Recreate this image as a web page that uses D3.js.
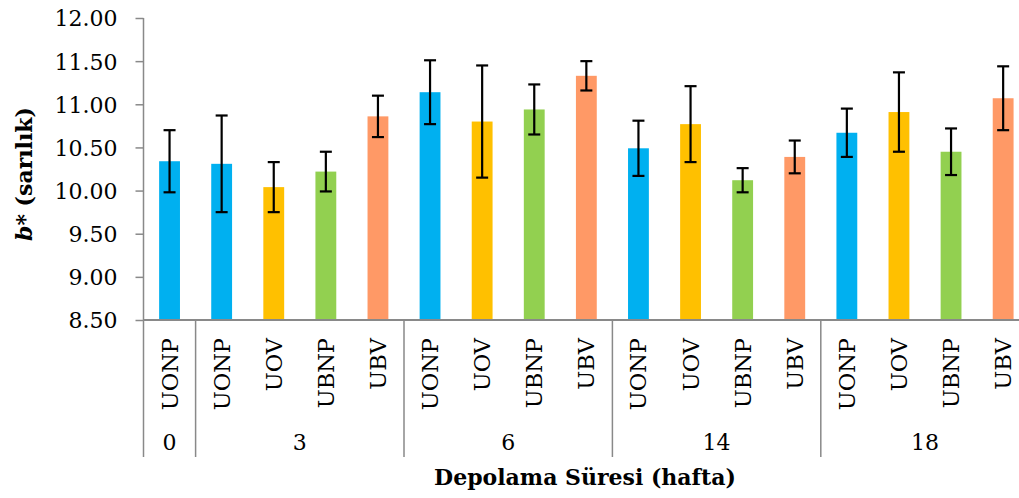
<!DOCTYPE html>
<html>
<head>
<meta charset="utf-8">
<script src="https://cdn.jsdelivr.net/npm/d3@7"></script>
<style>
  html, body { margin: 0; padding: 0; background: #fff; }
  svg { display: block; }
</style>
</head>
<body>
<svg id="chart" width="1019" height="498"></svg>
<script>
// ---- data ----
const weeks = ["0", "3", "3", "3", "3", "6", "6", "6", "6", "14", "14", "14", "14", "18", "18", "18", "18"];
const treatments = ["UONP", "UONP", "UOV", "UBNP", "UBV", "UONP", "UOV", "UBNP", "UBV", "UONP", "UOV", "UBNP", "UBV", "UONP", "UOV", "UBNP", "UBV"];
const values = [10.34, 10.31, 10.04, 10.22, 10.86, 11.14, 10.80, 10.94, 11.33, 10.49, 10.77, 10.12, 10.39, 10.67, 10.91, 10.45, 11.07];
const errors = [0.36, 0.56, 0.29, 0.23, 0.24, 0.37, 0.65, 0.29, 0.17, 0.32, 0.44, 0.14, 0.19, 0.28, 0.46, 0.27, 0.37];
const yTicks = [8.5, 9.0, 9.5, 10.0, 10.5, 11.0, 11.5, 12.0];
const treatmentNames = ["UONP", "UOV", "UBNP", "UBV"];
const treatmentColors = ["#00B0F0", "#FFC000", "#92D050", "#FF9966"];
const yTitle = "b* (sarılık)";
const xTitle = "Depolama Süresi (hafta)";

(function () {
// ---- layout ----
const svg = d3.select("#chart");
const mLeft = 143.5, mTop = 18, mBottom = 320, mRight = 1029.2;
const font = "'DejaVu Serif', 'Liberation Serif', serif";
const axisColor = "#898989";

const idx = d3.range(values.length);
const x = d3.scaleBand().domain(idx).range([mLeft, mRight]).paddingInner(0.6).paddingOuter(0.3);
const y = d3.scaleLinear().domain([8.5, 12]).range([mBottom, mTop]);
const color = d3.scaleOrdinal().domain(treatmentNames).range(treatmentColors);
const step = x.step();

// bars
svg.append("g").selectAll("rect").data(idx).join("rect")
  .attr("x", i => x(i))
  .attr("y", i => y(values[i]))
  .attr("width", x.bandwidth())
  .attr("height", i => y(8.5) - y(values[i]))
  .attr("fill", i => color(treatments[i]));

// error bars
const eb = svg.append("g").attr("stroke", "#000").attr("stroke-width", 2.2).attr("fill", "none");
idx.forEach(i => {
  const cx = x(i) + x.bandwidth() / 2;
  const hi = y(values[i] + errors[i]), lo = y(values[i] - errors[i]);
  eb.append("line").attr("x1", cx).attr("x2", cx).attr("y1", hi).attr("y2", lo);
  eb.append("line").attr("x1", cx - 6).attr("x2", cx + 6).attr("y1", hi).attr("y2", hi);
  eb.append("line").attr("x1", cx - 6).attr("x2", cx + 6).attr("y1", lo).attr("y2", lo);
});

// y axis
const yAxis = d3.axisLeft(y).tickValues(yTicks).tickFormat(d3.format(".2f")).tickSize(8).tickPadding(18);
const yg = svg.append("g").attr("transform", `translate(${mLeft},0)`).call(yAxis);
yg.select(".domain").attr("stroke", axisColor).attr("stroke-width", 1.5).attr("d", `M0,${mTop}V${mBottom}`);
yg.selectAll(".tick line").attr("stroke", axisColor).attr("stroke-width", 1.5);
yg.selectAll(".tick text").attr("font-family", font).attr("font-size", 22).attr("fill", "#000").attr("dy", "0.36em");

// x baseline
svg.append("line").attr("x1", mLeft).attr("x2", 1019).attr("y1", mBottom).attr("y2", mBottom)
  .attr("stroke", axisColor).attr("stroke-width", 2);

// group separators
const sepBottom = 457;
const groupStarts = idx.filter(i => i === 0 || weeks[i] !== weeks[i - 1]);
const sepX = groupStarts.map(i => x(i) - x.paddingOuter() * step).concat([mRight]);
svg.append("g").selectAll("line").data(sepX).join("line")
  .attr("x1", d => d).attr("x2", d => d).attr("y1", mBottom).attr("y2", sepBottom)
  .attr("stroke", axisColor).attr("stroke-width", 1.5);

// treatment labels (rotated)
svg.append("g").selectAll("text").data(idx).join("text")
  .attr("transform", i => `translate(${x(i) + x.bandwidth() / 2 + 8},338) rotate(-90)`)
  .attr("text-anchor", "end")
  .attr("font-family", font).attr("font-size", 22.5).attr("fill", "#000")
  .text(i => treatments[i]);

// week labels
const groups = groupStarts.map((s, k) => {
  const e = k + 1 < groupStarts.length ? groupStarts[k + 1] - 1 : values.length - 1;
  return { label: weeks[s], cx: (x(s) + x(e) + x.bandwidth()) / 2 };
});
svg.append("g").selectAll("text").data(groups).join("text")
  .attr("x", d => d.cx).attr("y", 450)
  .attr("text-anchor", "middle")
  .attr("font-family", font).attr("font-size", 22).attr("fill", "#000")
  .text(d => d.label);

// x title
svg.append("text").attr("x", 585).attr("y", 485).attr("text-anchor", "middle")
  .attr("font-family", font).attr("font-weight", "bold").attr("font-size", 22).attr("fill", "#000")
  .text(xTitle);

// y title
const yt = svg.append("text").attr("transform", "translate(32,174) rotate(-90)")
  .attr("text-anchor", "middle").attr("font-family", font).attr("font-weight", "bold")
  .attr("font-size", 22).attr("fill", "#000");
yt.append("tspan").attr("font-style", "italic").text(yTitle.slice(0, 1));
yt.append("tspan").text(yTitle.slice(1));
})();
</script>
</body>
</html>
